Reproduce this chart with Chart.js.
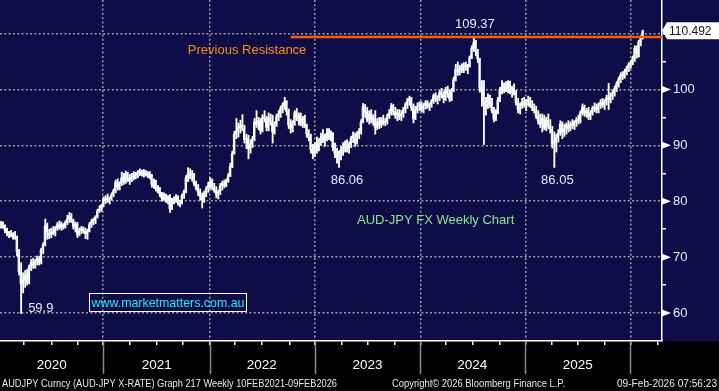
<!DOCTYPE html>
<html>
<head>
<meta charset="utf-8">
<script src="https://cdn.jsdelivr.net/npm/chart.js@4.4.1/dist/chart.umd.min.js"></script>
<style>
  html, body { margin: 0; padding: 0; background: #000; }
  #wrap { width: 719px; height: 391px; }
</style>
</head>
<body>
<div id="wrap"><canvas id="fx" width="719" height="391"></canvas></div>
<script>
// Weekly AUD-JPY bars, one entry per week (index 0 = first week of 2020)
const highs = [
  76.4, 76.3, 75.8, 75.2, 74.6, 74.8, 74.4, 74.6, 73.8, 71.4,
  69.0, 67.2, 67.6, 67.8, 68.6, 69.6, 69.8, 69.6, 70.2, 70.1,
  71.6, 72.6, 76.8, 76.1, 75.0, 75.2, 75.5, 75.5, 76.2, 76.5,
  76.3, 76.0, 76.5, 77.5, 78.0, 77.8, 76.8, 76.3, 76.2, 75.2,
  75.5, 75.4, 75.2, 75.0, 76.2, 76.8, 77.0, 77.4, 78.6, 79.2,
  79.5, 80.8, 81.0, 81.3, 80.8, 81.5, 82.2, 83.8, 84.0, 83.5,
  85.2, 85.0, 85.4, 85.2, 84.8, 85.0, 85.3, 85.2, 85.5, 85.8,
  85.6, 85.7, 85.5, 85.3, 85.3, 84.8, 84.0, 83.8, 82.8, 82.5,
  81.6, 81.5, 81.3, 81.0, 81.2, 80.5, 80.8, 81.2, 81.0, 80.2,
  81.3, 82.0, 84.6, 86.0, 85.8, 85.5, 85.0, 83.6, 83.0, 82.2,
  81.5, 81.8, 82.6, 83.4, 84.2, 84.0, 83.2, 82.6, 82.0, 83.2,
  83.6, 83.8, 84.0, 85.0, 86.8, 89.0, 92.5, 94.8, 94.0, 94.5,
  95.5, 93.6, 92.0, 91.8, 91.0, 91.6, 94.8, 96.2, 95.0, 94.8,
  95.5, 96.2, 95.2, 95.8, 95.6, 95.4, 94.2, 95.6, 96.2, 97.0,
  97.6, 98.6, 98.0, 96.5, 94.6, 94.4, 96.2, 96.6, 95.8, 95.8,
  95.2, 95.4, 93.8, 92.8, 92.0, 90.2, 90.5, 91.5, 91.2, 92.2,
  92.8, 92.0, 93.0, 93.0, 92.6, 92.3, 90.4, 89.5, 89.0, 89.8,
  90.5, 90.8, 91.0, 90.6, 91.6, 92.4, 92.2, 92.5, 93.0, 94.6,
  97.5, 97.3, 96.8, 96.2, 96.4, 95.5, 96.2, 94.8, 95.0, 95.0,
  95.4, 94.8, 95.6, 96.4, 97.5, 97.3, 96.8, 96.4, 96.4, 96.2,
  96.8, 97.6, 98.4, 98.8, 98.6, 97.4, 97.0, 97.6, 97.8, 97.8,
  97.5, 98.0, 98.0, 97.6, 98.2, 99.2, 99.4, 98.9, 99.8, 100.2,
  99.6, 100.4, 100.6, 100.0, 100.2, 102.2, 104.5, 104.9, 104.3, 104.6,
  104.8, 104.9, 104.5, 106.0, 107.8, 109.37, 108.8, 107.2, 105.6, 101.6,
  101.6, 98.6, 99.2, 99.0, 98.4, 96.8, 96.4, 98.6, 100.4, 101.6,
  101.2, 101.4, 101.6, 101.5, 100.6, 101.0, 99.8, 98.4, 97.6, 98.4,
  98.6, 98.2, 98.8, 98.6, 98.0, 97.4, 97.0, 96.2, 95.6, 95.6,
  95.4, 95.0, 95.6, 94.6, 93.4, 92.4, 92.0, 92.8, 94.4, 94.2,
  93.8, 94.0, 94.4, 94.2, 94.6, 94.4, 95.0, 95.4, 96.2, 97.4,
  97.2, 96.6, 96.8, 96.2, 97.0, 97.6, 97.4, 97.6, 98.2, 98.4,
  98.2, 99.0, 101.1, 99.4, 99.8, 100.6, 101.4, 102.2, 103.0, 103.2,
  103.6, 104.2, 104.8, 105.2, 106.0, 107.8, 107.8, 108.8, 109.6, 110.6
];
const lows = [
  75.2, 75.2, 74.4, 73.8, 73.5, 73.6, 73.2, 73.2, 70.2, 66.8,
  59.9, 63.6, 64.6, 65.0, 65.2, 67.6, 68.0, 68.0, 68.6, 68.6,
  68.8, 70.6, 72.0, 73.2, 73.3, 73.5, 74.0, 73.8, 74.8, 75.0,
  74.8, 75.0, 75.2, 75.8, 76.2, 76.2, 75.0, 74.5, 73.5, 73.8,
  74.2, 74.3, 73.3, 73.2, 74.5, 75.3, 75.8, 76.0, 77.0, 78.0,
  78.2, 79.0, 79.6, 79.8, 79.5, 80.2, 80.8, 81.5, 82.0, 82.0,
  82.8, 83.0, 83.2, 83.5, 83.0, 83.5, 83.8, 84.0, 84.2, 84.6,
  84.5, 84.3, 84.5, 84.2, 84.0, 82.5, 82.3, 81.8, 81.5, 80.8,
  80.0, 80.2, 79.8, 79.5, 78.0, 78.5, 79.5, 79.8, 79.3, 79.0,
  79.5, 80.5, 81.5, 83.5, 84.0, 83.6, 82.8, 82.0, 81.0, 80.2,
  78.8, 79.8, 80.8, 81.6, 82.2, 82.0, 81.6, 80.6, 80.4, 81.2,
  82.0, 82.4, 82.6, 83.4, 84.4, 86.0, 88.4, 91.2, 91.5, 92.2,
  92.6, 90.4, 89.4, 87.6, 88.6, 89.6, 90.8, 93.2, 92.8, 92.0,
  92.4, 94.2, 92.6, 92.6, 93.6, 90.4, 92.0, 93.4, 94.4, 95.0,
  95.8, 96.4, 95.4, 93.0, 92.2, 92.4, 93.6, 94.4, 93.6, 93.5,
  93.2, 93.2, 91.4, 90.8, 88.6, 87.6, 88.0, 88.6, 89.0, 90.0,
  90.5, 89.8, 90.8, 91.0, 90.8, 89.0, 87.8, 86.8, 86.06, 87.4,
  88.2, 88.8, 88.8, 88.6, 89.6, 90.5, 89.8, 90.2, 91.2, 92.0,
  94.0, 95.0, 94.2, 93.8, 94.0, 93.6, 92.0, 92.8, 93.0, 93.2,
  93.6, 93.5, 93.8, 94.8, 95.4, 95.4, 94.8, 94.4, 94.6, 94.4,
  95.0, 95.8, 96.6, 97.2, 96.2, 94.0, 94.6, 95.8, 96.2, 96.0,
  95.8, 96.5, 96.6, 96.2, 96.8, 97.5, 97.8, 97.4, 98.0, 98.5,
  97.6, 98.0, 98.6, 97.8, 98.0, 99.6, 101.5, 102.5, 102.6, 103.0,
  103.0, 103.4, 102.8, 104.0, 105.5, 106.8, 106.0, 104.8, 99.5, 97.0,
  90.15, 95.4, 96.6, 96.8, 95.8, 94.2, 94.4, 95.6, 97.8, 99.2,
  99.4, 99.6, 99.4, 99.2, 98.6, 99.0, 97.2, 95.8, 95.6, 96.6,
  96.8, 96.2, 97.0, 96.8, 96.2, 95.8, 94.8, 93.8, 93.2, 92.4,
  92.8, 92.6, 93.0, 92.2, 89.5, 86.05, 88.8, 90.6, 91.8, 91.2,
  91.6, 92.0, 92.4, 92.6, 93.0, 92.8, 93.4, 93.8, 94.0, 95.4,
  95.2, 95.0, 94.6, 94.6, 95.4, 96.0, 95.8, 95.8, 96.6, 96.8,
  96.4, 97.2, 96.4, 97.6, 98.2, 98.8, 99.6, 100.4, 101.2, 101.8,
  102.0, 102.6, 103.2, 103.8, 104.4, 105.0, 105.6, 105.8, 107.8, 109.0
];
const closes = [
  75.9, 75.6, 74.8, 74.2, 74.3, 73.9, 74.0, 73.6, 71.0, 67.4,
  65.2, 65.8, 66.8, 65.6, 68.2, 69.0, 68.6, 69.2, 69.7, 69.1,
  71.3, 72.2, 75.6, 74.2, 74.0, 74.6, 74.3, 75.2, 75.8, 75.3,
  75.8, 75.4, 76.2, 76.8, 77.3, 76.6, 75.4, 75.9, 74.0, 74.8,
  75.1, 74.7, 74.2, 74.6, 75.8, 76.3, 76.6, 77.2, 78.3, 78.6,
  79.2, 80.3, 80.5, 80.2, 80.6, 81.2, 81.9, 83.4, 82.5, 83.2,
  84.2, 83.5, 84.9, 84.0, 83.8, 84.4, 84.2, 84.8, 85.1, 85.4,
  84.9, 85.3, 84.8, 85.0, 84.4, 83.0, 83.5, 82.2, 82.4, 81.2,
  80.5, 81.0, 80.3, 80.8, 78.6, 80.2, 80.4, 80.8, 79.7, 79.6,
  81.0, 81.8, 84.2, 85.0, 84.6, 84.8, 83.2, 82.4, 81.6, 80.8,
  80.2, 81.4, 82.2, 82.8, 83.6, 82.6, 82.0, 81.2, 81.6, 82.8,
  83.2, 82.8, 83.6, 84.6, 86.2, 88.6, 92.0, 92.6, 93.2, 93.6,
  93.0, 91.0, 91.2, 89.4, 90.2, 91.2, 94.2, 93.8, 94.4, 92.6,
  95.0, 94.8, 93.2, 94.8, 94.2, 92.4, 93.8, 95.2, 95.6, 96.6,
  97.2, 97.8, 96.0, 93.6, 93.0, 94.0, 95.8, 95.0, 95.4, 94.0,
  94.8, 93.6, 92.0, 91.4, 89.2, 88.6, 89.8, 89.2, 90.8, 91.4,
  91.0, 91.6, 92.2, 91.6, 92.1, 89.6, 88.5, 88.0, 88.8, 89.2,
  89.6, 90.2, 89.4, 90.2, 91.2, 91.8, 90.5, 92.0, 92.4, 94.2,
  97.0, 96.0, 94.6, 95.6, 94.5, 95.0, 93.2, 94.2, 93.6, 94.6,
  94.0, 94.3, 95.2, 95.8, 97.0, 96.0, 95.4, 95.8, 95.2, 95.6,
  96.4, 97.2, 98.0, 98.4, 96.8, 94.8, 96.4, 97.0, 97.2, 96.4,
  97.2, 97.6, 97.0, 97.3, 97.9, 98.9, 98.2, 98.6, 99.4, 99.0,
  98.4, 100.0, 99.2, 98.2, 99.8, 101.8, 103.6, 103.2, 103.9, 103.6,
  104.3, 104.0, 104.2, 105.8, 107.4, 108.4, 106.8, 105.4, 100.2, 99.8,
  97.2, 97.8, 98.6, 97.4, 96.2, 94.6, 96.0, 98.2, 100.0, 100.4,
  100.6, 100.2, 101.0, 99.6, 100.2, 99.4, 97.6, 96.4, 97.2, 97.8,
  97.2, 97.8, 98.0, 97.2, 96.8, 96.2, 95.2, 94.4, 93.8, 94.8,
  93.2, 94.4, 93.6, 92.8, 90.2, 90.6, 91.4, 92.2, 93.8, 92.4,
  93.0, 93.6, 93.0, 93.8, 93.6, 94.2, 94.6, 94.4, 95.8, 96.8,
  95.8, 96.2, 95.2, 95.8, 96.6, 96.8, 96.4, 97.2, 97.6, 97.2,
  97.8, 98.6, 98.2, 98.8, 99.4, 100.2, 101.0, 101.8, 102.6, 102.4,
  103.2, 103.8, 104.4, 104.8, 105.6, 107.4, 106.4, 108.6, 109.2, 110.492
];

// x axis: quarter ticks (week index), year boundaries, year labels sit on the July tick
const quarterTicks = [11.4, 25.2, 37.9, 50.7, 64.1, 77.4, 90.3, 103.9, 116.3, 129.6, 143.3,
  156.1, 169.3, 182.1, 195.5, 208.4, 221.2, 234.2, 247.7, 260.6, 273.7, 286.6, 299.9, 312.8, 326.4];
const yearStarts = [50.7, 103.9, 156.1, 208.4, 260.6, 312.8];
const yearLabelAt = [25.2, 77.4, 129.6, 182.1, 234.2, 286.6];
const yearLabels = ['2020', '2021', '2022', '2023', '2024', '2025'];

// y axis
const priceTicks = [60, 65, 70, 75, 80, 85, 90, 95, 100, 105, 110];
const priceGrid = [60, 70, 80, 90, 100, 110];
const priceLabels = [60, 70, 80, 90, 100];

const resistanceLevel = 109.37;
const resistanceFrom = 144;
const lastPrice = 110.492;

const SANS = "'Liberation Sans', Arial, sans-serif";
const NAVY = '#0e0d47';

// text notes pinned to the data
const notes = [
  { text: '109.37', week: 235, value: 109.37, dx: 1, dy: -13, align: 'center', color: '#e4eaff' },
  { text: '86.06', week: 168, value: 86.06, dx: 8, dy: 13, align: 'center', color: '#e4eaff' },
  { text: '86.05', week: 275, value: 86.05, dx: 3, dy: 13, align: 'center', color: '#e4eaff' },
  { text: '59.9', week: 10, value: 59.9, dx: 7, dy: -5, align: 'left', color: '#e4eaff' },
  { text: 'Previous Resistance', week: 122.3, value: 107.0, dx: 0, dy: 0, align: 'center', color: '#ff8c1a' },
  { text: 'AUD-JPY FX Weekly Chart', week: 216, value: 76.5, dx: 0, dy: 0, align: 'center', color: '#8ee68e' }
];

const bars = closes.map((c, i) => ({ x: i, y: [lows[i], highs[i]] }));
const closeLine = closes.map((c, i) => ({ x: i, y: c }));

const noPad = s => { s.paddingLeft = 0; s.paddingRight = 0; s.paddingTop = 0; s.paddingBottom = 0; };

const decor = {
  id: 'decor',
  beforeDraw(chart) {
    const { ctx, chartArea } = chart;
    ctx.save();
    ctx.fillStyle = '#000';
    ctx.fillRect(0, 0, chart.width, chart.height);
    ctx.fillStyle = NAVY;
    ctx.fillRect(0, 0, chart.width, chartArea.bottom);
    ctx.restore();
  },
  afterDraw(chart) {
    const { ctx, chartArea } = chart;
    const xs = chart.scales.x, ys = chart.scales.y;
    ctx.save();

    // long year separators under the axis
    ctx.strokeStyle = '#8a8a8a';
    ctx.lineWidth = 1.5;
    yearStarts.forEach(v => {
      const x = Math.round(xs.getPixelForValue(v)) + 0.5;
      ctx.beginPath();
      ctx.moveTo(x, chartArea.bottom);
      ctx.lineTo(x, chartArea.bottom + 33);
      ctx.stroke();
    });

    // flags on the major price ticks
    ctx.fillStyle = '#fff';
    priceLabels.forEach(v => {
      const y = ys.getPixelForValue(v);
      ctx.beginPath();
      ctx.moveTo(chartArea.right, y - 3.5);
      ctx.lineTo(chartArea.right + 9, y);
      ctx.lineTo(chartArea.right, y + 3.5);
      ctx.closePath();
      ctx.fill();
    });

    // last price tag
    const ly = ys.getPixelForValue(lastPrice);
    const bx = chartArea.right + 5;
    ctx.beginPath();
    ctx.moveTo(chartArea.right, ly);
    ctx.lineTo(bx, ly - 8.5);
    ctx.lineTo(chart.width, ly - 8.5);
    ctx.lineTo(chart.width, ly + 8.5);
    ctx.lineTo(bx, ly + 8.5);
    ctx.closePath();
    ctx.fillStyle = '#fff';
    ctx.fill();
    ctx.fillStyle = '#111';
    ctx.font = '12px ' + SANS;
    ctx.textAlign = 'left';
    ctx.textBaseline = 'middle';
    ctx.fillText(lastPrice.toFixed(3), bx + 2, ly + 1);

    // notes
    ctx.font = '13px ' + SANS;
    notes.forEach(n => {
      ctx.fillStyle = n.color;
      ctx.textAlign = n.align;
      ctx.fillText(n.text, xs.getPixelForValue(n.week) + n.dx, ys.getPixelForValue(n.value) + n.dy);
    });

    // website box
    ctx.strokeStyle = '#fff';
    ctx.lineWidth = 1;
    ctx.strokeRect(89.5, 293.5, 157, 18);
    ctx.fillStyle = '#1ee6ff';
    ctx.textAlign = 'center';
    ctx.font = '13px ' + SANS;
    ctx.fillText('www.marketmatters.com.au', 168, 303, 153);

    // footer
    ctx.fillStyle = '#e8e8e8';
    ctx.font = '11px ' + SANS;
    ctx.textAlign = 'left';
    ctx.fillText('AUDJPY Curncy (AUD-JPY X-RATE) Graph 217 Weekly 10FEB2021-09FEB2026', 2, 384, 335);
    ctx.fillText('Copyright\u00a9 2026 Bloomberg Finance L.P.', 392, 384, 173);
    ctx.textAlign = 'right';
    ctx.fillText('09-Feb-2026 07:56:23', 717, 384, 100);
    ctx.restore();
  }
};

new Chart(document.getElementById('fx'), {
  type: 'bar',
  data: {
    datasets: [
      {
        type: 'line',
        data: [{ x: resistanceFrom, y: resistanceLevel }, { x: 328.5, y: resistanceLevel }],
        borderColor: '#ff5a08',
        borderWidth: 2.5,
        pointRadius: 0,
        order: 0
      },
      {
        type: 'line',
        data: closeLine,
        borderColor: '#fff',
        borderWidth: 1,
        stepped: 'middle',
        pointRadius: 0,
        order: 1
      },
      {
        type: 'bar',
        data: bars,
        backgroundColor: '#fff',
        borderWidth: 0,
        barThickness: 1.2,
        grouped: false,
        order: 2
      }
    ]
  },
  options: {
    responsive: false,
    devicePixelRatio: 1,
    animation: false,
    layout: { padding: 0 },
    plugins: { legend: { display: false }, tooltip: { enabled: false } },
    scales: {
      x: {
        type: 'linear',
        offset: false,
        min: -0.5,
        max: 328.5,
        afterBuildTicks: s => { s.ticks = quarterTicks.map(v => ({ value: v })); },
        afterFit: s => { s.height = 50; noPad(s); },
        ticks: {
          autoSkip: false,
          maxRotation: 0,
          padding: 12,
          color: '#fff',
          font: { family: SANS, size: 13.5 },
          callback: v => {
            const k = yearLabelAt.indexOf(v);
            return k >= 0 ? yearLabels[k] : '';
          }
        },
        grid: {
          offset: false,
          color: c => (c.tick && yearStarts.includes(c.tick.value)) ? '#a0a0a0' : 'rgba(0,0,0,0)',
          lineWidth: 1.5,
          tickLength: 4,
          tickColor: '#fff',
          tickWidth: 1.5,
          tickBorderDash: []
        },
        border: { display: true, color: '#fff', width: 1.5, dash: [2, 2.3] }
      },
      y: {
        type: 'linear',
        position: 'right',
        min: 55,
        max: 116,
        afterBuildTicks: s => { s.ticks = priceTicks.map(v => ({ value: v })); },
        afterFit: s => { s.width = 57; noPad(s); },
        ticks: {
          padding: 7,
          color: '#e4eaff',
          font: { family: SANS, size: 13 },
          callback: v => priceLabels.includes(v) ? String(v) : ''
        },
        grid: {
          color: c => (c.tick && priceGrid.includes(c.tick.value)) ? '#a0a0a0' : 'rgba(0,0,0,0)',
          lineWidth: 1.5,
          tickLength: 4,
          tickColor: '#fff',
          tickWidth: 1.5,
          tickBorderDash: []
        },
        border: { display: true, color: '#fff', width: 1.5, dash: [2, 2.3] }
      }
    }
  },
  plugins: [decor]
});
</script>
</body>
</html>
